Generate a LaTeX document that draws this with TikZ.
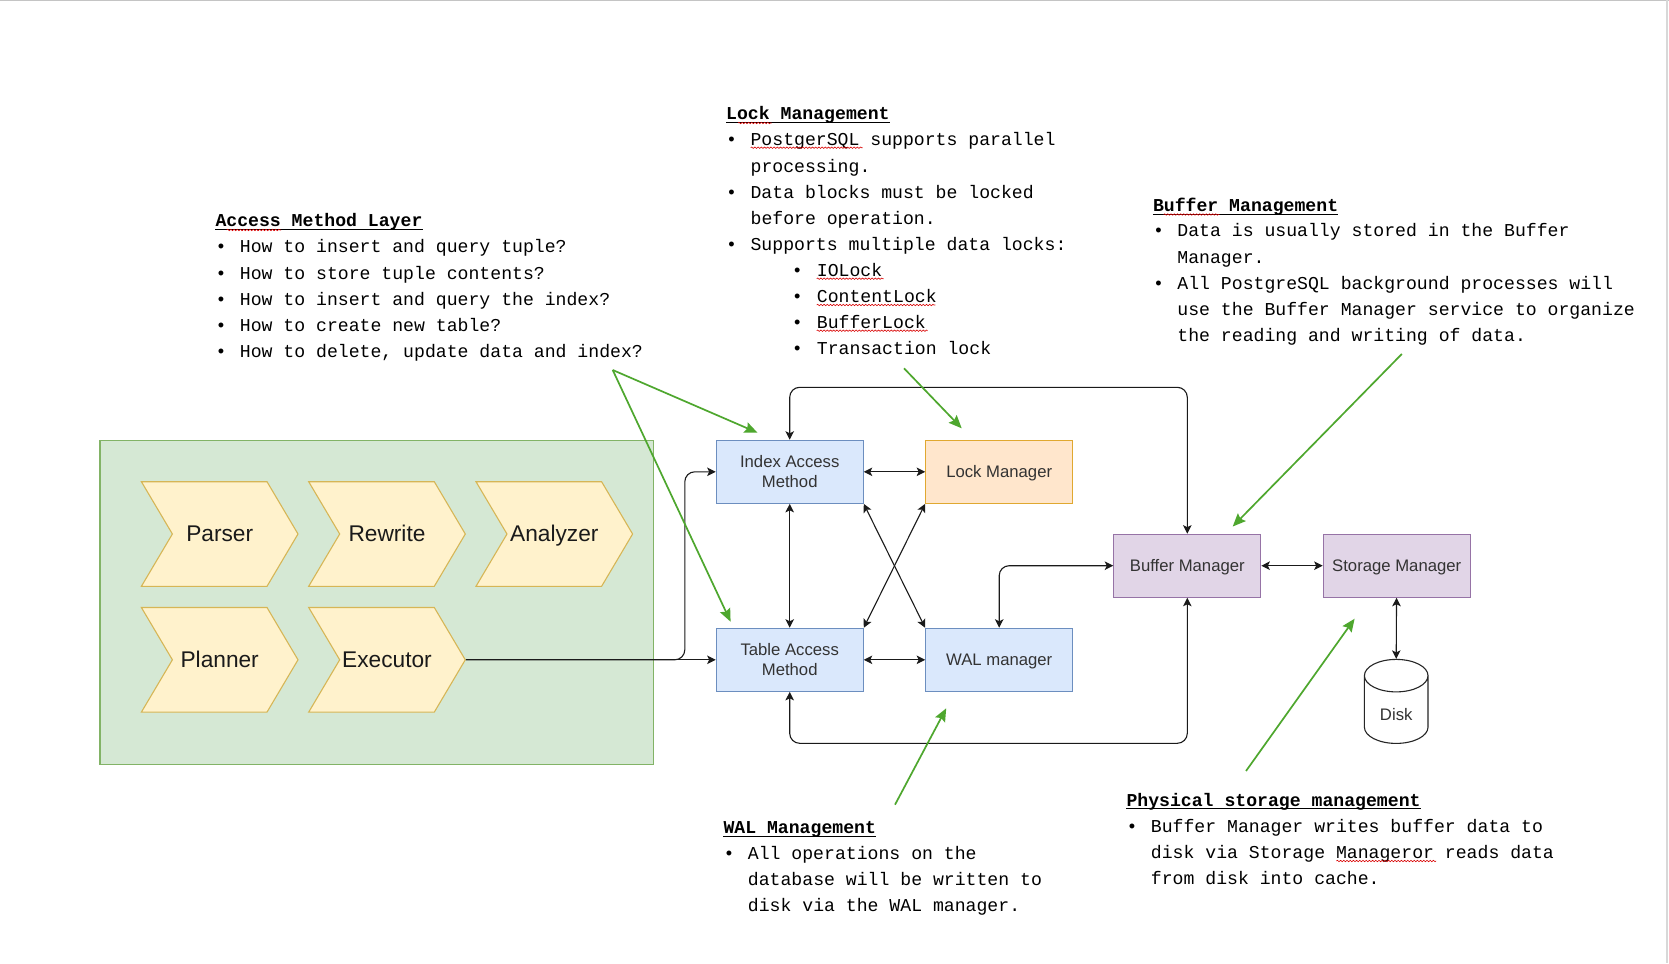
\documentclass[tikz,border=0pt]{standalone}
\usepackage{fontspec}
\setmainfont{Liberation Sans}
\newfontfamily\monofnt{Liberation Mono}
\usetikzlibrary{arrows.meta,shapes.geometric,shapes.symbols,decorations.pathmorphing}
\definecolor{pagegray}{HTML}{C4C4C4}
\definecolor{pagegrayb}{HTML}{D8D8D8}
\definecolor{arrowgreen}{HTML}{4EA72E}
\definecolor{ink}{HTML}{1A1A1A}
\newcommand{\bul}{\makebox[24.4pt][l]{•}}
\newcommand{\cnt}{\hspace*{24.4pt}}
\newcommand{\subbul}{\hspace*{65.7pt}\makebox[25pt][l]{•}}
\newcommand{\firststrut}{\rule{0pt}{14pt}}
\definecolor{greenfill}{HTML}{D5E8D4}
\definecolor{greenedge}{HTML}{82B366}
\definecolor{chevfill}{HTML}{FFF2CC}
\definecolor{chevedge}{HTML}{D6B656}
\definecolor{bluefill}{HTML}{DAE8FC}
\definecolor{blueedge}{HTML}{6C8EBF}
\definecolor{orangefill}{HTML}{FFE6CC}
\definecolor{orangeedge}{HTML}{E0A830}
\definecolor{purplefill}{HTML}{E1D5E7}
\definecolor{purpleedge}{HTML}{9673A6}
\tikzset{
  x=1pt,y=-1pt,
  layerbox/.style={draw=greenedge,fill=greenfill,line width=1.1pt},
  chev/.style={signal,signal from=west,signal to=east,signal pointer angle=118.7,
    minimum width=156.6pt,minimum height=104.6pt,inner sep=0pt,text height=15.4pt,text depth=0pt,
    draw=chevedge,fill=chevfill,line width=1.1pt,text=ink,font=\fontsize{22.7}{26}\selectfont},
  mgr/.style={rectangle,minimum width=147pt,minimum height=63pt,inner sep=0pt,line width=1.1pt,
    align=center,text=black!80,font=\fontsize{16.7}{19.6}\selectfont},
  oneline/.style={text height=12pt,text depth=0pt},
  bluebox/.style={mgr,draw=blueedge,fill=bluefill},
  orangebox/.style={mgr,draw=orangeedge,fill=orangefill},
  purplebox/.style={mgr,draw=purpleedge,fill=purplefill},
  ttl/.style={anchor=base west,inner sep=0pt,font=\monofnt\bfseries\fontsize{18.15}{26.1}\selectfont},
  body/.style={anchor=north west,inner sep=0pt,align=left,font=\monofnt\fontsize{18.15}{26.1}\selectfont},
  link/.style={draw=ink,line width=1.1pt,{Stealth[length=8.5pt,width=8.5pt,inset=2pt]}-{Stealth[length=8.5pt,width=8.5pt,inset=2pt]}},
  flow/.style={draw=ink,line width=1.1pt,-{Stealth[length=8.5pt,width=8.5pt,inset=2pt]}},
  callout/.style={draw=arrowgreen,line width=1.7pt,-{Stealth[length=13pt,width=11pt,inset=2pt]}},
  uline/.style={draw=black,line width=1pt},
  squig/.style={draw=red!85!black,line width=0.6pt,decorate,decoration={snake,segment length=3.2pt,amplitude=0.7pt}},
}
\begin{document}
\begin{tikzpicture}
\useasboundingbox (0,0) rectangle (1669,963);
\fill[white] (0,0) rectangle (1669,963);
\draw[pagegray,line width=1.2pt] (0,0.6) -- (1669,0.6);
\draw[pagegrayb,line width=2pt] (1667,0) -- (1667,963);

% processing layer
\node[layerbox,rectangle,minimum width=553.8pt,minimum height=323.8pt,inner sep=0pt,anchor=north west] (layer) at (99.4,440.2) {};
\node[chev] (parser)   at (219.7,534) {Parser};
\node[chev] (rewrite)  at (387,534) {Rewrite};
\node[chev] (analyzer) at (554.3,534) {Analyzer};
\node[chev] (planner)  at (219.7,659.8) {Planner};
\node[chev] (executor) at (387,659.8) {Executor};

% managers
\node[bluebox]   (index)   at (789.7,471.8) {Index Access\\Method};
\node[orangebox,oneline] (lock)    at (999.2,471.8) {Lock Manager};
\node[bluebox]   (tableam) at (789.7,659.8) {Table Access\\Method};
\node[bluebox,oneline]   (wal)     at (999.2,659.8) {WAL manager};
\node[purplebox,oneline] (buffer)  at (1187.3,565.7) {Buffer Manager};
\node[purplebox,oneline] (storage) at (1396.7,565.7) {Storage Manager};
\node[cylinder,shape border rotate=90,aspect=1,minimum height=84pt,minimum width=63.6pt,inner sep=0pt,
  draw=black!85,fill=white,line width=1.1pt,text=black!80,font=\fontsize{16.7}{19.6}\selectfont] (disk) at (1396.2,709.8) {\smash{\raisebox{-11pt}{Disk}}};

% connectors
\coordinate (branch) at (684.8,560);
\coordinate (topway) at (1000,387.3);
\coordinate (botway) at (1000,743.3);
\draw[flow] (executor.east) -- (tableam.west);
\draw[flow,rounded corners=10pt] (executor.east) -| (branch) |- (index.west);
\draw[link] (index) -- (lock);
\draw[link] (tableam) -- (wal);
\draw[link] (index) -- (tableam);
\draw[link] (index.south east) -- (wal.north west);
\draw[link] (tableam.north east) -- (lock.south west);
\draw[link,rounded corners=10pt] (index.north) |- (topway) -| (buffer.north);
\draw[link,rounded corners=10pt] (tableam.south) |- (botway) -| (buffer.south);
\draw[link,rounded corners=10pt] (wal.north) |- (buffer.west);
\draw[link] (buffer) -- (storage);
\draw[link] (storage) -- (disk.top);

% texts
\node[ttl] (t1) at (215.3,226.7) {Access Method Layer};
\node[body] (b1) at (215.3,238.7) {\firststrut\bul How to insert and query tuple?\\
\bul How to store tuple contents?\\
\bul How to insert and query the index?\\
\bul How to create new table?\\
\bul How to delete, update data and index?};

\node[ttl] (t2) at (726,120) {Lock Management};
\node[body] (b2) at (726,131.7) {\firststrut\bul PostgerSQL supports parallel\\
\cnt processing.\\
\bul Data blocks must be locked\\
\cnt before operation.\\
\bul Supports multiple data locks:\\
\subbul IOLock\\
\subbul ContentLock\\
\subbul BufferLock\\
\subbul Transaction lock};

\node[ttl] (t3) at (1152.8,211.7) {Buffer Management};
\node[body] (b3) at (1152.8,222.7) {\firststrut\bul Data is usually stored in the Buffer\\
\cnt Manager.\\
\bul All PostgreSQL background processes will\\
\cnt use the Buffer Manager service to organize\\
\cnt the reading and writing of data.};

\node[ttl] (t4) at (723.3,833.3) {WAL Management};
\node[body] (b4) at (723.3,845.3) {\firststrut\bul All operations on the\\
\cnt database will be written to\\
\cnt disk via the WAL manager.};

\node[ttl] (t5) at (1126.3,806) {Physical storage management};
\node[body] (b5) at (1126.3,818.3) {\firststrut\bul Buffer Manager writes buffer data to\\
\cnt disk via Storage Manageror reads data\\
\cnt from disk into cache.};

% title rules
\foreach \t in {t1,t2,t3,t4,t5}
  \draw[uline] ([yshift=-2.8pt]\t.base west) -- ([yshift=-2.8pt]\t.base east);

% spell-check marks
\draw[squig] (226.7,230) -- (281,230);
\draw[squig] (738,123) -- (771.7,123);
\draw[squig] (750.7,147.7) -- (862.7,147.7);
\draw[squig] (816.7,278.7) -- (883.7,278.7);
\draw[squig] (816.7,305) -- (935.3,305);
\draw[squig] (816.7,330.7) -- (927.7,330.7);
\draw[squig] (1163.6,214.5) -- (1219.3,214.5);
\draw[squig] (1336.4,861) -- (1436.2,861);

% green callouts
\coordinate (accessfoot) at (612.7,370);
\coordinate (lockfoot) at (904,368.3);
\coordinate (bufferfoot) at (1401.8,354);
\coordinate (walhead) at (895,804.7);
\coordinate (physhead) at (1246,771);
\coordinate (c1) at (757.5,432.7);
\coordinate (c2) at (730.6,621.7);
\coordinate (c3) at (961.7,428.3);
\coordinate (c4) at (1232.7,526.5);
\coordinate (c5) at (946.2,708.3);
\coordinate (c6) at (1354.6,618.7);
\draw[callout] (accessfoot) -- (c1);
\draw[callout] (accessfoot) -- (c2);
\draw[callout] (lockfoot) -- (c3);
\draw[callout] (bufferfoot) -- (c4);
\draw[callout] (walhead) -- (c5);
\draw[callout] (physhead) -- (c6);
\end{tikzpicture}
\end{document}
